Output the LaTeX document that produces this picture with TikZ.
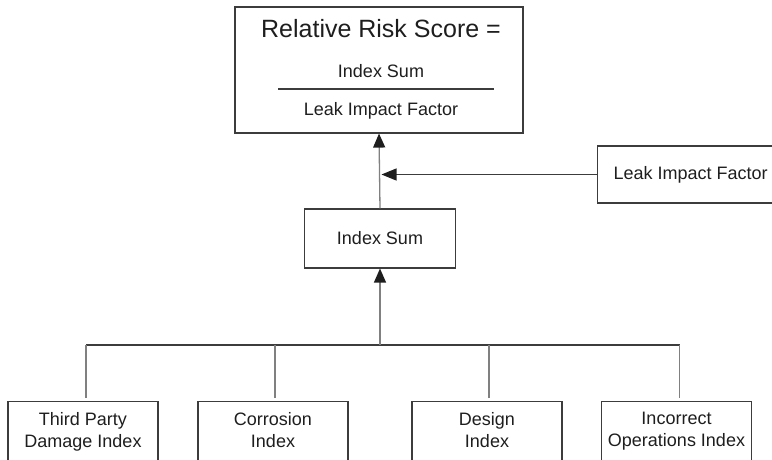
\documentclass[tikz,border=0pt]{standalone}
\usepackage{fontspec}
\setmainfont{Liberation Sans}
\usetikzlibrary{arrows.meta,positioning,calc}
\definecolor{rrline}{RGB}{60,60,60}
\definecolor{rrconn}{RGB}{128,128,128}
\definecolor{rrtext}{RGB}{30,30,30}
\tikzset{
  box/.style={draw=rrline, line width=1.1pt, inner sep=0pt},
  txt/.style={font=\fontsize{18}{22}\selectfont, text=rrtext, inner sep=0pt, align=center},
  leaf/.style={box, minimum width=150pt, minimum height=90pt, anchor=north},
  conn/.style={rrconn, line width=1.3pt},
  busln/.style={rrline, line width=1.2pt},
  uparr/.style={-{Triangle[length=14pt,width=12pt,color=rrtext,fill=rrtext]}, rrconn, line width=1.3pt},
  sidearr/.style={-{Triangle[length=15pt,width=12pt,color=rrtext,fill=rrtext]}, rrline, line width=1.1pt},
}

\begin{document}
\begin{tikzpicture}[x=1pt,y=-1pt]
    \clip (0,0) rectangle (772,459);
    % score box with the fraction
    \node[box, minimum width=288pt, minimum height=126pt] (score) at (379,70) {};
    \node[txt, font=\fontsize{25}{30}\selectfont, anchor=base] (title) at (381,37) {Relative Risk Score =};
    \node[txt, anchor=base] (num) at (381,77) {Index Sum};
    \node[txt, anchor=base] (den) at (381,115) {Leak Impact Factor};
    \draw[busln] (278,89) -- (494,89);
    % middle row
    \node[box, txt, minimum width=151pt, minimum height=59pt] (isum) at (380,238.5) {Index Sum};
    \node[box, txt, minimum width=186pt, minimum height=57pt, anchor=west] (lif) at (597,174.5) {Leak Impact Factor};
    \coordinate (join) at (isum.north |- lif.west);
    \draw[uparr] (isum.north) -- (score.south);
    \draw[sidearr, shorten >=1.5pt] (lif.west) -- (join);
    % index boxes
    \node[leaf, label={[txt, anchor=north, yshift=-11pt]north:{Third Party\\Damage Index}}] (tpd) at (83,401) {};
    \node[leaf, label={[txt, anchor=north, yshift=-11pt]north:{Corrosion\\Index}}] (corr) at (273,401) {};
    \node[leaf, label={[txt, anchor=north, yshift=-11pt]north:{Design\\Index}}] (des) at (487,401) {};
    \node[leaf, label={[txt, anchor=north, yshift=-11pt]north:{Incorrect\\Operations Index}}] (incop) at (676.5,401) {};
    % bus
    \coordinate (busL) at (86,345);
    \coordinate (busR) at (679.5,345);
    \draw[busln] (busL) -- (busR);
    \draw[uparr] (isum.south |- busL) -- (isum.south);
    \draw[conn] (tpd.north) ++(3,-3) -- ++(0,-53);
    \draw[conn] (corr.north) ++(2,-3) -- ++(0,-53);
    \draw[conn] (des.north) ++(2,-3) -- ++(0,-53);
    \draw[conn] (incop.north) ++(3,-3) -- ++(0,-53);
\end{tikzpicture}
\end{document}
